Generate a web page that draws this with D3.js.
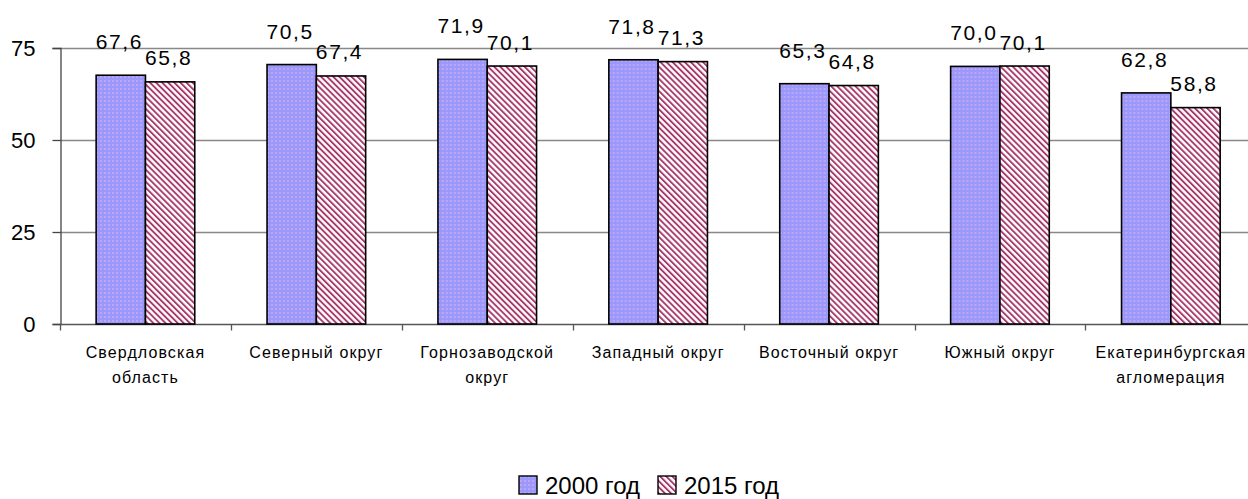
<!DOCTYPE html>
<html>
<head>
<meta charset="utf-8">
<script src="https://cdn.jsdelivr.net/npm/d3@7"></script>
<style>
  html, body { margin: 0; padding: 0; background: #fff; }
  svg { display: block; }
  svg text { font-family: "Liberation Sans", Arial, sans-serif; fill: #000; }
</style>
</head>
<body>
<svg id="chart" width="1248" height="499"></svg>
<script>
// Share of population by territory, per cent
const categories = [
  ["Свердловская", "область"],
  ["Северный округ"],
  ["Горнозаводской", "округ"],
  ["Западный округ"],
  ["Восточный округ"],
  ["Южный округ"],
  ["Екатеринбургская", "агломерация"]
];
const seriesNames = ["2000 год", "2015 год"];
const values2000 = [67.6, 70.5, 71.9, 71.8, 65.3, 70.0, 62.8];
const values2015 = [65.8, 67.4, 70.1, 71.3, 64.8, 70.1, 58.8];
const yTicks = [0, 25, 50, 75];

const svg = d3.select("#chart");
const margin = { left: 60, top: 48, bottom: 324 };
const step = 170.9;

const x = d3.scaleBand()
  .domain(d3.range(categories.length))
  .range([margin.left, margin.left + step * categories.length])
  .paddingInner(0).paddingOuter(0);

const xs = d3.scaleBand()
  .domain([0, 1])
  .range([0, x.bandwidth()])
  .paddingInner(0).paddingOuter(0.733);

const y = d3.scaleLinear().domain([0, 75]).range([margin.bottom, margin.top]);

// fill patterns
const defs = svg.append("defs");
const dots = defs.append("pattern")
  .attr("id", "pat2000").attr("patternUnits", "userSpaceOnUse")
  .attr("width", 4).attr("height", 4);
dots.append("rect").attr("width", 4).attr("height", 4).attr("fill", "#9a98fa");
dots.append("rect").attr("x", 0).attr("y", 0).attr("width", 2).attr("height", 2).attr("fill", "#c0a6f2");
dots.append("rect").attr("x", 2).attr("y", 2).attr("width", 1).attr("height", 1).attr("fill", "#8f9cff");

// downward diagonal stripes
const stripes = defs.append("pattern")
  .attr("id", "pat2015").attr("patternUnits", "userSpaceOnUse")
  .attr("width", 4.3).attr("height", 4.3)
  .attr("patternTransform", "rotate(-45)");
stripes.append("rect").attr("width", 4.3).attr("height", 4.3).attr("fill", "#fff");
stripes.append("rect").attr("x", 0).attr("width", 1.9).attr("height", 4.3).attr("fill", "#a8396d");

const fills = ["url(#pat2000)", "url(#pat2015)"];

// grid lines
svg.append("g")
  .selectAll("line")
  .data(yTicks.filter(t => t > 0))
  .join("line")
  .attr("x1", margin.left).attr("x2", 1248)
  .attr("y1", d => y(d) + 0.5).attr("y2", d => y(d) + 0.5)
  .attr("stroke", "#888").attr("stroke-width", 1.3);

// y axis
const yAxis = svg.append("g")
  .attr("transform", `translate(${margin.left + 0.5},0)`)
  .call(d3.axisLeft(y).tickValues(yTicks).tickSize(8).tickPadding(17).tickFormat(d3.format("d")));
yAxis.attr("font-family", null);
yAxis.select(".domain").attr("stroke", "#444").attr("stroke-width", 1.3);
yAxis.selectAll(".tick line").attr("stroke", "#444").attr("stroke-width", 1.3);
yAxis.selectAll(".tick text").attr("font-size", 22).attr("fill", "#000");

// x axis with ticks at category boundaries
const xAxisG = svg.append("g").attr("transform", `translate(0,${margin.bottom + 0.5})`);
xAxisG.append("line")
  .attr("x1", margin.left).attr("x2", 1248)
  .attr("stroke", "#555").attr("stroke-width", 1.3);
xAxisG.selectAll("line.tk")
  .data(d3.range(categories.length + 1))
  .join("line").attr("class", "tk")
  .attr("x1", d => Math.round(margin.left + d * step) + 0.5)
  .attr("x2", d => Math.round(margin.left + d * step) + 0.5)
  .attr("y1", 0).attr("y2", 6)
  .attr("stroke", "#555").attr("stroke-width", 1.3);

// category labels
const catLabels = svg.append("g");
categories.forEach((lines, i) => {
  const t = catLabels.append("text")
    .attr("x", x(i) + x.bandwidth() / 2)
    .attr("y", 358)
    .attr("text-anchor", "middle")
    .attr("font-size", 16)
    .attr("letter-spacing", 1.1);
  lines.forEach((ln, j) => {
    t.append("tspan").attr("x", x(i) + x.bandwidth() / 2).attr("dy", j === 0 ? 0 : 25).text(ln);
  });
});

// bars
const data = categories.map((c, i) => [values2000[i], values2015[i]]);
const groups = svg.append("g").selectAll("g")
  .data(data).join("g")
  .attr("transform", (d, i) => `translate(${x(i)},0)`);

groups.selectAll("rect")
  .data(d => d.map((v, s) => ({ v, s })))
  .join("rect")
  .attr("x", d => xs(d.s))
  .attr("y", d => y(d.v))
  .attr("width", xs.bandwidth())
  .attr("height", d => y(0) - y(d.v))
  .attr("fill", d => fills[d.s])
  .attr("stroke", "#000")
  .attr("stroke-width", 1.6);

// value labels
const labelOffset = [26, 16.5];
const fmt = v => d3.format(".1f")(v).replace(".", ",");
groups.selectAll("text.val")
  .data(d => d.map((v, s) => ({ v, s })))
  .join("text").attr("class", "val")
  .attr("x", d => xs(d.s) + xs.bandwidth() / 2 - 1.5)
  .attr("y", d => y(d.v) - labelOffset[d.s])
  .attr("text-anchor", "middle")
  .attr("font-size", 21)
  .attr("letter-spacing", 1.6)
  .text(d => fmt(d.v));

// legend
const legendItems = [
  { name: seriesNames[0], fill: fills[0], x: 519 },
  { name: seriesNames[1], fill: fills[1], x: 658 }
];
const legend = svg.append("g");
legendItems.forEach(it => {
  legend.append("rect")
    .attr("x", it.x).attr("y", 476)
    .attr("width", 18).attr("height", 18)
    .attr("fill", it.fill).attr("stroke", "#000").attr("stroke-width", 1.4);
  legend.append("text")
    .attr("x", it.x + 26).attr("y", 494)
    .attr("font-size", 24)
    .text(it.name);
});
</script>
</body>
</html>
